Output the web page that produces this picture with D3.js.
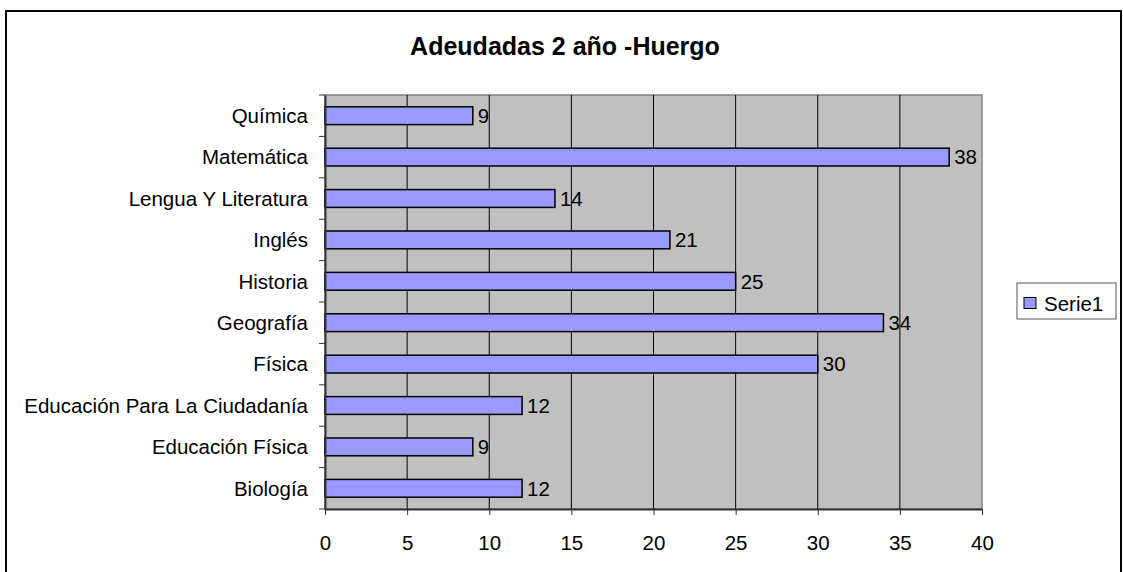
<!DOCTYPE html>
<meta charset="utf-8">
<style>
body { margin: 0; background: #fff; }
svg text { font-family: "Liberation Sans", Arial, sans-serif; fill: #000; }
.tick text { font-size: 20.5px; }
</style>
<body>
<svg width="1123" height="572"></svg>
<script src="https://d3js.org/d3.v7.min.js"></script>
<script>
var title = "Adeudadas 2 año -Huergo";
var seriesName = "Serie1";
var categories = ["Química", "Matemática", "Lengua Y Literatura", "Inglés", "Historia",
  "Geografía", "Física", "Educación Para La Ciudadanía", "Educación Física", "Biología"];
var values = [9, 38, 14, 21, 25, 34, 30, 12, 9, 12];
var xTicks = [0, 5, 10, 15, 20, 25, 30, 35, 40];

var svg = d3.select("svg");

// chart frame
svg.append("rect")
  .attr("x", 6).attr("y", 11)
  .attr("width", 1115).attr("height", 580)
  .attr("fill", "#fff").attr("stroke", "#000").attr("stroke-width", 2);

svg.append("text")
  .attr("x", 565).attr("y", 55)
  .attr("text-anchor", "middle")
  .style("font-size", "25px").style("font-weight", "bold")
  .text(title);

var plotL = 325, plotR = 982, plotT = 95, plotB = 509;

var x = d3.scaleLinear().domain([0, 40]).range([plotL, plotR]);
var y = d3.scaleBand().domain(categories).range([plotT, plotB]).paddingInner(0.57).paddingOuter(0.285);
var band = d3.scaleBand().domain(categories).range([plotT, plotB]);

// plot area
svg.append("rect")
  .attr("x", plotL).attr("y", plotT)
  .attr("width", plotR - plotL).attr("height", plotB - plotT)
  .attr("fill", "#c0c0c0").attr("stroke", "#808080").attr("stroke-width", 1.5);

// gridlines
svg.append("g").selectAll("line")
  .data(xTicks.slice(1, -1))
  .enter().append("line")
  .attr("x1", function(d) { return x(d); })
  .attr("x2", function(d) { return x(d); })
  .attr("y1", plotT).attr("y2", plotB)
  .attr("stroke", "#000").attr("stroke-width", 1);

// bars
svg.append("g").selectAll("rect")
  .data(values)
  .enter().append("rect")
  .attr("x", x(0))
  .attr("y", function(d, i) { return y(categories[i]); })
  .attr("width", function(d) { return x(d) - x(0); })
  .attr("height", y.bandwidth())
  .attr("fill", "#9999ff").attr("stroke", "#000").attr("stroke-width", 1.5);

// data labels
svg.append("g").selectAll("text")
  .data(values)
  .enter().append("text")
  .attr("x", function(d) { return x(d) + 5; })
  .attr("y", function(d, i) { return y(categories[i]) + y.bandwidth() / 2; })
  .attr("dy", "0.36em")
  .style("font-size", "20.5px")
  .text(function(d) { return d; });

// x axis
var gX = svg.append("g")
  .attr("transform", "translate(0," + plotB + ")")
  .call(d3.axisBottom(x).tickValues(xTicks).tickSize(6).tickPadding(20).tickSizeOuter(0));
gX.select(".domain").attr("stroke", "#333").attr("stroke-width", 2);
gX.selectAll(".tick line").attr("stroke", "#333");

// y axis: ticks on category boundaries
var gY = svg.append("g")
  .attr("transform", "translate(" + plotL + ",0)")
  .call(d3.axisLeft(y).tickSize(0).tickPadding(17));
gY.select(".domain").attr("stroke", "#333").attr("stroke-width", 2);
gY.selectAll(".tick text").attr("dy", "0.36em");
gY.append("g").selectAll("line")
  .data(categories.concat(["end"]))
  .enter().append("line")
  .attr("x1", -6).attr("x2", 0)
  .attr("y1", function(d, i) { return plotT + i * band.bandwidth(); })
  .attr("y2", function(d, i) { return plotT + i * band.bandwidth(); })
  .attr("stroke", "#333");

// legend
var lg = svg.append("g").attr("transform", "translate(1017,283)");
lg.append("rect").attr("width", 99).attr("height", 36)
  .attr("fill", "#fff").attr("stroke", "#555").attr("stroke-width", 1);
lg.append("rect").attr("x", 7).attr("y", 14.5).attr("width", 12).attr("height", 11)
  .attr("fill", "#9999ff").attr("stroke", "#000");
lg.append("text").attr("x", 27).attr("y", 27.5)
  .style("font-size", "20.5px").text(seriesName);
</script>
</body>
